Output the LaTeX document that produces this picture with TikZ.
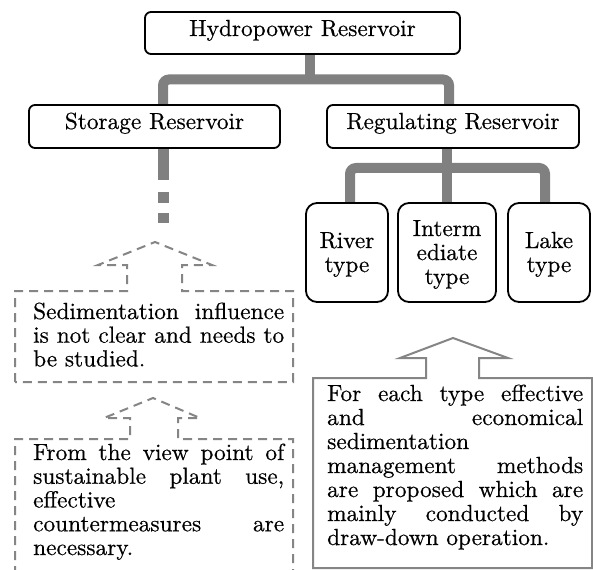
\documentclass[tikz,border=0pt]{standalone}
\usepackage{fontspec}
\setmainfont{lmroman10-regular.otf}[FakeBold=0.5]
\usetikzlibrary{backgrounds,calc}
\definecolor{conngray}{HTML}{808080}
\definecolor{callgray}{HTML}{858585}
\newcommand{\jline}[1]{\hbox to\hsize{#1}}
\newcommand{\lline}[1]{\hbox to\hsize{#1\hfil}}
\newcommand{\ctrline}[1]{\hbox to\hsize{\hfil#1\hfil}}
\newcommand{\bodyfont}{\fontsize{23.3}{24}\selectfont}
\begin{document}
\begin{tikzpicture}[x=1pt,y=-1pt,
  hbox/.style={draw=black, line width=1.8pt, rounded corners=6pt, fill=white, inner sep=0pt, font=\bodyfont},
  sbox/.style={draw=black, line width=1.8pt, rounded corners=11pt, fill=white, inner sep=0pt},
  txt/.style={inner sep=0pt, font=\bodyfont},
  conn/.style={draw=conngray, line width=10pt, rounded corners=6pt},
  dcall/.style={draw=callgray, line width=2pt, dash pattern=on 9pt off 6pt},
  scall/.style={draw=callgray, line width=2pt, line join=miter}]
\useasboundingbox (0,0) rectangle (593,569);

% boxes
\node[hbox, minimum width=315pt, minimum height=42pt, text height=14pt, text depth=8pt] (hp) at (302.5,33) {Hydropower Reservoir};
\node[hbox, minimum width=251pt, minimum height=43pt, text height=14pt, text depth=9pt] (storage) at (154.5,126.5) {Storage Reservoir};
\node[hbox, minimum width=252pt, minimum height=43pt, text height=14pt, text depth=9pt] (reg) at (453,126.5) {Regulating Reservoir};

\node[sbox, minimum width=82pt, minimum height=99pt] (river) at (347,252.5) {};
\node[sbox, minimum width=98pt, minimum height=99pt] (inter) at (447,252.5) {};
\node[sbox, minimum width=82pt, minimum height=99pt] (lake) at (549,252.5) {};

\node[txt, anchor=base] (rivertxt) at (347,248) {\vtop{\hsize=80pt\baselineskip=24pt \ctrline{River}\ctrline{type}}};
\node[txt, anchor=base] (intertxt) at (447,236) {\vtop{\hsize=96pt\baselineskip=24pt \ctrline{Interm}\ctrline{ediate}\ctrline{type}}};
\node[txt, anchor=base] (laketxt) at (549,248) {\vtop{\hsize=80pt\baselineskip=24pt \ctrline{Lake}\ctrline{type}}};

% connectors
\begin{pgfonlayer}{background}
\fill[white] (0,0) rectangle (593,569);
\coordinate (j1) at (310,79.5);
\coordinate (j2) at (447,168);
\draw[conn] ([xshift=7.5pt]hp.south) -- (j1);
\draw[conn] ([xshift=8.5pt]storage.north) |- (j1) -| ([xshift=-4pt]reg.north);
\draw[conn] ([xshift=-6pt]reg.south) -- (inter.north);
\draw[conn] ([xshift=3pt]river.north) |- (j2) -| ([xshift=-4pt]lake.north);
\coordinate (send) at (163,223);
\draw[draw=conngray, line width=11pt, dash pattern=on 31pt off 12pt on 11pt off 10pt on 11pt off 20pt] ([xshift=8.5pt]storage.south) -- (send);
\end{pgfonlayer}

% dashed callout 1
\draw[dcall] (15,382) -- (15,291) -- (127,291) -- (127,265) -- (98,265) -- (155,242) -- (212,265) -- (182,265) -- (182,291) -- (293,291) -- (293,382) -- cycle;
\node[txt, anchor=base west] (c1txt) at (33,319) {\vtop{\hsize=251pt\baselineskip=23.7pt
  \jline{Sedimentation influence}
  \jline{is not clear and needs to}
  \lline{be studied.}}};

% dashed callout 2
\draw[dcall] (15,575) -- (15,439) -- (130,439) -- (130,418) -- (104,418) -- (153,398) -- (200,418) -- (178,418) -- (178,439) -- (293,439) -- (293,575);
\node[txt, anchor=base west] (c2txt) at (33,460) {\vtop{\hsize=251pt\baselineskip=23.75pt
  \jline{From the view point of}
  \jline{sustainable plant use,}
  \lline{effective}
  \jline{countermeasures are}
  \lline{necessary.}}};

% solid callout
\draw[scall] (313,568) -- (313,378) -- (426,378) -- (426,358) -- (400,358) -- (453,338) -- (508,358) -- (479,358) -- (479,378) -- (592,378) -- (592,568) -- cycle;
\node[txt, anchor=base west] (c3txt) at (327,401) {\vtop{\hsize=256pt\baselineskip=24pt
  \jline{For each type effective}
  \jline{and economical}
  \lline{sedimentation}
  \jline{management methods}
  \jline{are proposed which are}
  \jline{mainly conducted by}
  \lline{draw-down operation.}}};
\end{tikzpicture}
\end{document}
